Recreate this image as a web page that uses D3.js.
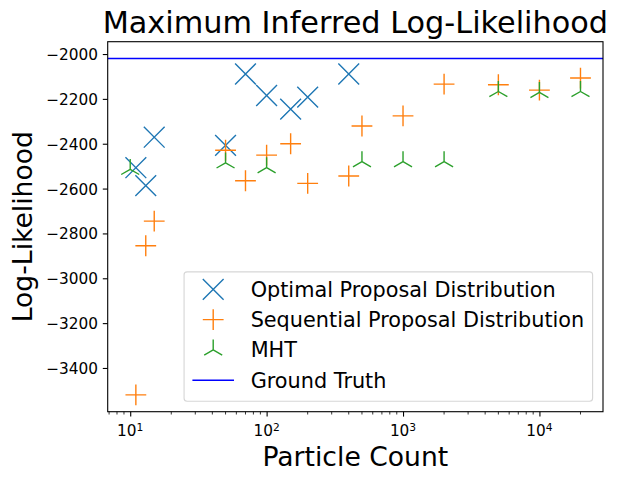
<!DOCTYPE html>
<html>
<head>
<meta charset="utf-8">
<script src="https://cdn.jsdelivr.net/npm/d3@7/dist/d3.min.js"></script>
<style>
  body { margin: 0; background: #fff; }
  text { font-family: "DejaVu Sans", sans-serif; fill: #000; }
</style>
</head>
<body>
<div id="chart"></div>
<script>
// values
const optimalCounts = [11, 13, 15, 50, 70, 100, 150, 200, 400]
const optimalLL = [-2507, -2587, -2371, -2407, -2089, -2185, -2246, -2192, -2089]

const sequentialCounts = [11, 13, 15, 50, 70, 100, 150, 200, 400, 500, 1000, 2000, 5000, 10000, 20000]
const sequentialLL = [-3520, -2855, -2745, -2429, -2565, -2451, -2400, -2577, -2544, -2321, -2276, -2134, -2137, -2161, -2107]

const mhtCounts = [10, 50, 100, 500, 1000, 2000, 5000, 10000, 20000]
const mhtLL = [-2514, -2485, -2507, -2480, -2480, -2480, -2167, -2171, -2167]

const groundTruth = -2020

const yTicks = [-3400, -3200, -3000, -2800, -2600, -2400, -2200, -2000]
const xTicks = [10, 100, 1000, 10000]

const width = 620, height = 482
const margin = {left: 107.7, top: 41.7, right: 17, bottom: 70.3}
const plotW = width - margin.left - margin.right
const plotH = height - margin.top - margin.bottom

const svg = d3.select('#chart')
	.append('svg')
	.attr('width', width)
	.attr('height', height)

// matplotlib style 5% margins (in log space for x)
const allCounts = optimalCounts.concat(sequentialCounts, mhtCounts)
const lx0 = Math.log10(d3.min(allCounts)), lx1 = Math.log10(d3.max(allCounts))
const lxPad = (lx1 - lx0) * 0.05
const xScale = d3.scaleLog()
	.domain([Math.pow(10, lx0 - lxPad), Math.pow(10, lx1 + lxPad)])
	.range([margin.left, margin.left + plotW])

const allLL = optimalLL.concat(sequentialLL, mhtLL, [groundTruth])
const y0 = d3.min(allLL), y1 = d3.max(allLL)
const yPad = (y1 - y0) * 0.05
const yScale = d3.scaleLinear()
	.domain([y0 - yPad, y1 + yPad])
	.range([margin.top + plotH, margin.top])

const ms = 10.4 // half marker size in px (markersize 15)
const markerPaths = {
	x: `M${-ms},${-ms}L${ms},${ms}M${-ms},${ms}L${ms},${-ms}`,
	plus: `M${-ms},0L${ms},0M0,${-ms}L0,${ms}`,
	tri: `M0,0L0,${-ms}M0,0L${-ms * 0.866},${ms * 0.5}M0,0L${ms * 0.866},${ms * 0.5}`
}

const series = [
	{name: 'Optimal Proposal Distribution', counts: optimalCounts, values: optimalLL, marker: 'x', color: '#1f77b4'},
	{name: 'Sequential Proposal Distribution', counts: sequentialCounts, values: sequentialLL, marker: 'plus', color: '#ff7f0e'},
	{name: 'MHT', counts: mhtCounts, values: mhtLL, marker: 'tri', color: '#2ca02c'}
]

svg.append('clipPath').attr('id', 'plotclip')
	.append('rect')
	.attr('x', margin.left).attr('y', margin.top)
	.attr('width', plotW).attr('height', plotH)

const plot = svg.append('g').attr('clip-path', 'url(#plotclip)')

for (let s of series) {
	plot.append('g')
		.selectAll('path')
		.data(s.counts.map((c, i) => ({c: c, v: s.values[i]})))
		.join('path')
		.attr('transform', d => `translate(${xScale(d.c)},${yScale(d.v)})`)
		.attr('d', markerPaths[s.marker])
		.attr('fill', 'none')
		.attr('stroke', s.color)
		.attr('stroke-width', 1.4)
}

plot.append('line')
	.attr('x1', margin.left).attr('x2', margin.left + plotW)
	.attr('y1', yScale(groundTruth)).attr('y2', yScale(groundTruth))
	.attr('stroke', '#0000ff')
	.attr('stroke-width', 1.4)

// axes
const bottomY = margin.top + plotH
const yAxis = svg.append('g')
	.attr('transform', `translate(${margin.left},0)`)
	.call(d3.axisLeft(yScale).tickValues(yTicks).tickSize(4.9).tickPadding(4.9)
		.tickFormat(d => d3.format('d')(d).replace('-', '\u2212')))
yAxis.select('.domain').remove()
yAxis.selectAll('line').attr('stroke-width', 1.1)
yAxis.selectAll('text')
	.style('font-size', '15.3px')
	.style('font-family', '"DejaVu Sans", sans-serif')
	.attr('dy', '0.36em')

const minorTicks = []
for (let e = 0; e < 6; e++) {
	for (let m = 2; m < 10; m++) {
		let v = m * Math.pow(10, e)
		if (v >= xScale.domain()[0] && v <= xScale.domain()[1]) minorTicks.push(v)
	}
}
svg.append('g')
	.selectAll('line')
	.data(minorTicks)
	.join('line')
	.attr('x1', d => xScale(d)).attr('x2', d => xScale(d))
	.attr('y1', bottomY).attr('y2', bottomY + 2.8)
	.attr('stroke', '#000')
	.attr('stroke-width', 0.8)

const xAxis = svg.append('g')
	.attr('transform', `translate(0,${bottomY})`)
	.call(d3.axisBottom(xScale).tickValues(xTicks).tickSize(4.9).tickFormat(''))
xAxis.select('.domain').remove()
xAxis.selectAll('line').attr('stroke-width', 1.1)

const xLabels = svg.append('g')
	.selectAll('text')
	.data(xTicks)
	.join('text')
	.attr('x', d => xScale(d))
	.attr('y', bottomY + 24)
	.attr('text-anchor', 'middle')
	.style('font-size', '15.3px')
xLabels.append('tspan').text('10')
xLabels.append('tspan')
	.attr('dy', '-0.45em')
	.style('font-size', '10.7px')
	.text(d => Math.round(Math.log10(d)))

// frame
svg.append('rect')
	.attr('x', margin.left).attr('y', margin.top)
	.attr('width', plotW).attr('height', plotH)
	.attr('fill', 'none')
	.attr('stroke', '#000')
	.attr('stroke-width', 1.1)

// titles
svg.append('text')
	.attr('x', margin.left + plotW / 2)
	.attr('y', 33)
	.attr('text-anchor', 'middle')
	.style('font-size', '30.3px')
	.text('Maximum Inferred Log-Likelihood')

svg.append('text')
	.attr('x', margin.left + plotW / 2)
	.attr('y', 466)
	.attr('text-anchor', 'middle')
	.style('font-size', '26.6px')
	.text('Particle Count')

svg.append('text')
	.attr('transform', `translate(32,${margin.top + plotH / 2}) rotate(-90)`)
	.attr('text-anchor', 'middle')
	.style('font-size', '26.6px')
	.text('Log-Likelihood')

// legend, lower right
const fs = 20.8
const legendItems = series.map(s => ({name: s.name, marker: s.marker, color: s.color}))
legendItems.push({name: 'Ground Truth', marker: 'line', color: '#0000ff'})

const legend = svg.append('g')
const legendFrame = legend.append('rect')
const texts = legend.selectAll('text.lab')
	.data(legendItems)
	.join('text')
	.attr('class', 'lab')
	.style('font-size', fs + 'px')
	.text(d => d.name)
let maxW = 0
texts.each(function() { maxW = Math.max(maxW, this.getComputedTextLength()) })

const rowH = 30.3
const boxW = 0.4 * fs + 2 * fs + 0.8 * fs + maxW + 0.4 * fs
const boxH = 0.4 * fs * 2 + rowH * legendItems.length - 0.5 * fs + 2
const boxX = margin.left + plotW - 0.5 * fs - boxW
const boxY = bottomY - 0.5 * fs - boxH

legendFrame
	.attr('x', boxX).attr('y', boxY)
	.attr('width', boxW).attr('height', boxH)
	.attr('rx', 3)
	.attr('fill', '#fff')
	.attr('fill-opacity', 0.8)
	.attr('stroke', '#cccccc')
	.attr('stroke-opacity', 0.8)
	.attr('stroke-width', 1.1)

const rowY = i => boxY + 17.5 + i * rowH
texts
	.attr('x', boxX + 0.4 * fs + 2.8 * fs)
	.attr('y', (d, i) => rowY(i))
	.attr('dy', '0.36em')

const handleX = boxX + 0.4 * fs + fs
legend.selectAll('path.handle')
	.data(legendItems)
	.join('path')
	.attr('class', 'handle')
	.attr('transform', (d, i) => `translate(${handleX},${rowY(i)})`)
	.attr('d', d => d.marker == 'line' ? `M${-fs},0L${fs},0` : markerPaths[d.marker])
	.attr('fill', 'none')
	.attr('stroke', d => d.color)
	.attr('stroke-width', 1.4)
</script>
</body>
</html>
